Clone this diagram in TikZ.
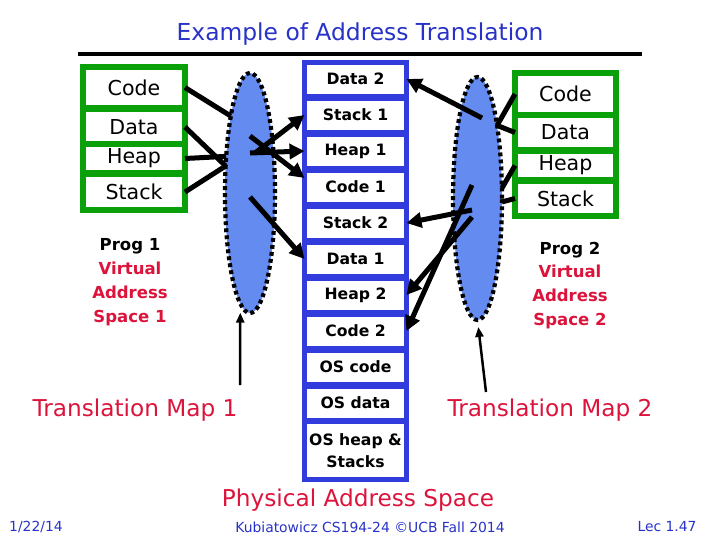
\documentclass[tikz,border=0pt]{standalone}
\usepackage{fontspec}
\setmainfont{DejaVu Sans}
\usepackage{tikz}
\usetikzlibrary{arrows.meta,shapes.geometric}
\definecolor{vgreen}{RGB}{10,160,10}
\definecolor{memblue}{RGB}{50,60,220}
\definecolor{mapblue}{RGB}{100,140,240}
\definecolor{titleblue}{RGB}{40,50,200}
\definecolor{redtxt}{RGB}{220,20,60}
\begin{document}
\begin{tikzpicture}[scale=0.2]

\tikzstyle{every node}+=[inner sep=0pt, outer sep=0pt]
\tikzstyle{vcell}=[draw=vgreen, line width=0.12cm, fill=white, font=\fontsize{11.7}{14}\selectfont]
\tikzstyle{pcell}=[draw=memblue, line width=0.1cm, fill=white, minimum width=2.04cm, minimum height=0.68cm, align=center, font=\bfseries\fontsize{8.9}{12.5}\selectfont]
\tikzstyle{tmap}=[ellipse, draw=black, fill=mapblue, line width=2.4pt, dash pattern=on 2.2pt off 1.8pt]
\tikzstyle{link}=[black, line width=0.1cm]
\tikzstyle{xlat}=[black, line width=0.1cm, -{Triangle[length=0.3cm,width=0.3cm]}]
\tikzstyle{pointer}=[black, line width=0.05cm, -{Triangle[length=0.2cm,width=0.16cm]}]
\tikzstyle{proglabel}=[align=center, font=\bfseries\fontsize{9.4}{13.6}\selectfont]
\tikzstyle{maplabel}=[text=redtxt, font=\fontsize{13.2}{16}\selectfont]
\tikzstyle{foot}=[text=titleblue, font=\fontsize{7.9}{9}\selectfont]

\useasboundingbox (0,0) rectangle (72,-54);
\node [text=titleblue, font=\fontsize{13.3}{16}\selectfont] (title) at (36,-3.4) {Example of Address Translation};
\draw [black, line width=0.08cm] (7.8,-5.4) -- (64.2,-5.4);

\node [vcell, minimum width=2.04cm, minimum height=0.82cm] (vcode1) at (13.4,-8.75) {Code};
\node [vcell, minimum width=2.04cm, minimum height=0.72cm] (vdata1) at (13.4,-12.7) {Data};
\node [vcell, minimum width=2.04cm, minimum height=0.58cm] (vheap1) at (13.4,-15.85) {Heap};
\node [vcell, minimum width=2.04cm, minimum height=0.72cm] (vstack1) at (13.4,-19.2) {Stack};

\node [vcell, minimum width=2.02cm, minimum height=0.84cm] (vcode2) at (56.55,-9.4) {Code};
\node [vcell, minimum width=2.02cm, minimum height=0.70cm] (vdata2) at (56.55,-13.25) {Data};
\node [vcell, minimum width=2.02cm, minimum height=0.58cm] (vheap2) at (56.55,-16.55) {Heap};
\node [vcell, minimum width=2.02cm, minimum height=0.70cm] (vstack2) at (56.55,-19.85) {Stack};

\node [pcell] (pdata2) at (35.55,-7.9) {Data 2};
\node [pcell] (pstack1) at (35.55,-11.5) {Stack 1};
\node [pcell] (pheap1) at (35.55,-15.1) {Heap 1};
\node [pcell] (pcode1) at (35.55,-18.7) {Code 1};
\node [pcell] (pstack2) at (35.55,-22.3) {Stack 2};
\node [pcell] (pdata1) at (35.55,-25.9) {Data 1};
\node [pcell] (pheap2) at (35.55,-29.5) {Heap 2};
\node [pcell] (pcode2) at (35.55,-33.1) {Code 2};
\node [pcell] (poscode) at (35.55,-36.7) {OS code};
\node [pcell] (posdata) at (35.55,-40.3) {OS data};
\node [pcell, minimum height=1.16cm] (posheap) at (35.55,-45.05) {OS heap \&\\Stacks};

\node [tmap, minimum width=1.0cm, minimum height=4.8cm] (map1) at (25.0,-19.3) {};
\node [tmap, minimum width=0.98cm, minimum height=4.86cm] (map2) at (47.75,-19.85) {};

\coordinate (m1s) at (25.5,-15.3);
\coordinate (m1h) at (25.0,-15.3);
\coordinate (m1c) at (25.0,-13.6);
\coordinate (m1d) at (25.0,-19.7);
\coordinate (m2d) at (48.2,-11.8);
\coordinate (m2s) at (47.2,-21.0);
\coordinate (m2h) at (47.2,-21.7);
\coordinate (m2c) at (47.2,-18.5);
\coordinate (t1) at (24.0,-38.5);
\coordinate (t2) at (48.6,-39.2);

\draw [link] (vcode1.east) -- (map1.104);
\draw [link] (vdata1.east) -- (map1.132);
\draw [link] (vheap1.east) -- (map1.123);
\draw [link] (vstack1.east) -- (map1.132);
\draw [link] (vcode2.west) -- (map2.75);
\draw [link] (vdata2.west) -- (map2.75);
\draw [link] (vheap2.west) -- (map2.23);
\draw [link] (vstack2.west) -- (map2.-8);

\draw [xlat] (m1s) -- (pstack1.west);
\draw [xlat] (m1h) -- (pheap1.west);
\draw [xlat] (m1c) -- (pcode1.170);
\draw [xlat] (m1d) -- (pdata1.west);
\draw [xlat] (m2d) -- (pdata2.east);
\draw [xlat] (m2s) -- (pstack2.east);
\draw [xlat] (m2h) -- (pheap2.east);
\draw [xlat] (m2c) -- (pcode2.east);

\node [proglabel] (prog1) at (13.0,-28.2) {Prog 1\\\textcolor{redtxt}{Virtual}\\\textcolor{redtxt}{Address}\\\textcolor{redtxt}{Space 1}};
\node [proglabel] (prog2) at (57.0,-28.55) {Prog 2\\\textcolor{redtxt}{Virtual}\\\textcolor{redtxt}{Address}\\\textcolor{redtxt}{Space 2}};

\node [maplabel] (tmap1) at (13.5,-41.0) {Translation Map 1};
\node [maplabel] (tmap2) at (55.0,-41.0) {Translation Map 2};
\draw [pointer, shorten >=0.18cm] (t1) -- (map1.265);
\draw [pointer, shorten >=0.14cm] (t2) -- (map2.south);

\node [maplabel] (phys) at (35.8,-50.0) {Physical Address Space};
\node [foot] (date) at (3.6,-52.7) {1/22/14};
\node [foot] (course) at (37.0,-52.7) {Kubiatowicz CS194-24 ©UCB Fall 2014};
\node [foot] (lec) at (66.7,-52.7) {Lec 1.47};
\end{tikzpicture}
\end{document}
